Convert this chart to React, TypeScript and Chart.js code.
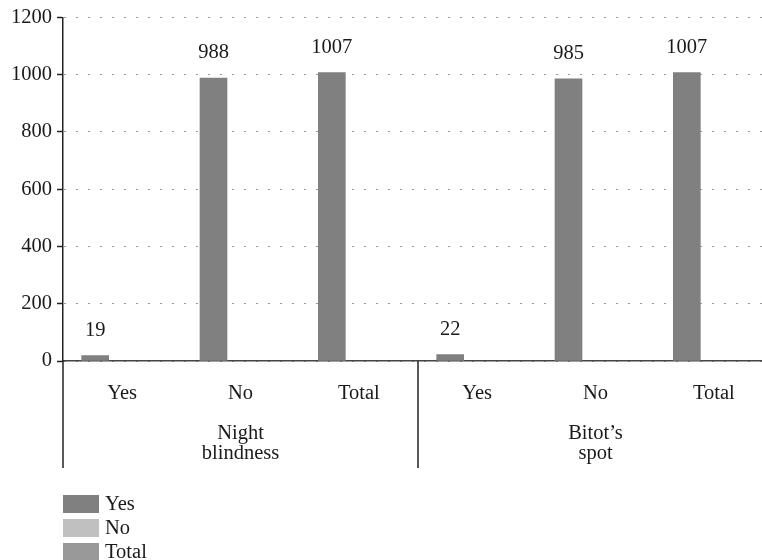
import React, { useEffect, useRef } from "react";
import { Chart, registerables } from "chart.js";

Chart.register(...registerables);

const subCategories = ["Yes", "No", "Total", "Yes", "No", "Total"];
const groupLabels = [["Night", "blindness"], ["Bitot’s", "spot"]];
const seriesNames = ["Yes", "No", "Total"];
const seriesColors = ["#808080", "#c0c0c0", "#999999"];
const yesValues: (number | null)[] = [19, 988, 1007, 22, 985, 1007];
const noValues: (number | null)[] = [null, null, null, null, null, null];
const totalValues: (number | null)[] = [null, null, null, null, null, null];
const yMin = 0;
const yMax = 1200;
const yStep = 200;

const FONT = "'Liberation Serif', 'Times New Roman', serif";
const FONT_SIZE = 20.5;

const overlayPlugin = {
  id: "overlay",
  afterDatasetsDraw(chart: any) {
    const ctx = chart.ctx;
    ctx.save();
    ctx.font = `${FONT_SIZE}px ${FONT}`;
    ctx.fillStyle = "#1a1a1a";
    ctx.textAlign = "center";
    ctx.textBaseline = "middle";
    chart.data.datasets.forEach((ds: any, i: number) => {
      const meta = chart.getDatasetMeta(i);
      meta.data.forEach((bar: any, j: number) => {
        const v = ds.data[j];
        if (v == null) return;
        ctx.fillText(String(v), bar.x, bar.y - 25);
      });
    });
    ctx.restore();
  },
  afterDraw(chart: any) {
    const ctx = chart.ctx;
    const area = chart.chartArea;
    const xs = chart.scales.x;
    ctx.save();
    // group separators
    ctx.strokeStyle = "#222";
    ctx.lineWidth = 1.5;
    const sepXs = [area.left];
    for (let g = 1; g < groupLabels.length; g++) {
      const idx = g * 3;
      sepXs.push((xs.getPixelForValue(idx - 1) + xs.getPixelForValue(idx)) / 2);
    }
    sepXs.forEach((x) => {
      ctx.beginPath();
      ctx.moveTo(x, area.bottom);
      ctx.lineTo(x, area.bottom + 107);
      ctx.stroke();
    });
    // legend
    ctx.font = `${FONT_SIZE}px ${FONT}`;
    ctx.textAlign = "left";
    ctx.textBaseline = "middle";
    chart.data.datasets.forEach((ds: any, i: number) => {
      const y = area.bottom + 134 + i * 24;
      ctx.fillStyle = ds.backgroundColor;
      ctx.fillRect(area.left, y, 36, 18);
      ctx.fillStyle = "#1a1a1a";
      ctx.fillText(ds.label, area.left + 42, y + 10);
    });
    ctx.restore();
  },
};

export default function App() {
  const canvasRef = useRef<HTMLCanvasElement | null>(null);

  useEffect(() => {
    if (!canvasRef.current) return;
    const seriesData = [yesValues, noValues, totalValues];
    const chart = new Chart(canvasRef.current, {
      type: "bar",
      data: {
        labels: subCategories,
        datasets: seriesNames.map((name, i) => ({
          label: name,
          data: seriesData[i],
          backgroundColor: seriesColors[i],
          borderWidth: 0,
          barThickness: 27,
        })),
      },
      options: {
        animation: false,
        responsive: true,
        maintainAspectRatio: false,
        layout: { padding: { top: 15, bottom: 92, left: 0, right: 0 } },
        plugins: {
          legend: { display: false },
          tooltip: { enabled: false },
        },
        scales: {
          x: {
            type: "category",
            position: "bottom",
            weight: 0,
            grid: { display: false, drawTicks: false },
            border: { display: true, color: "#444", width: 1.5 },
            ticks: {
              color: "#1a1a1a",
              font: { family: FONT, size: FONT_SIZE },
              padding: 20,
              maxRotation: 0,
              autoSkip: false,
            },
            afterFit: (s: any) => {
              s.height = 46;
            },
          },
          x2: {
            type: "category",
            position: "bottom",
            weight: 1,
            labels: groupLabels as any,
            offset: true,
            grid: { display: false, drawTicks: false },
            border: { display: false },
            ticks: {
              color: "#1a1a1a",
              font: { family: FONT, size: FONT_SIZE, lineHeight: 1.0 },
              padding: 16,
              maxRotation: 0,
              autoSkip: false,
            },
            afterFit: (s: any) => {
              s.height = 61;
            },
          },
          y: {
            min: yMin,
            max: yMax,
            grid: {
              color: "#333",
              lineWidth: 1,
              tickLength: 6,
              tickColor: "#222",
              tickWidth: 1.5,
              tickBorderDash: [],
            },
            border: { display: true, color: "#222", width: 1.5, dash: [1, 11], dashOffset: 11 },
            ticks: {
              stepSize: yStep,
              color: "#1a1a1a",
              font: { family: FONT, size: FONT_SIZE },
              padding: 5,
              callback: (v: any) => String(v),
            },
            afterFit: (s: any) => {
              s.width = 63;
            },
          },
        },
      },
      plugins: [overlayPlugin],
    });
    return () => chart.destroy();
  }, []);

  return (
    <div
      style={{
        position: "fixed",
        left: 0,
        top: 0,
        width: 762,
        height: 560,
        overflow: "hidden",
        background: "#fff",
      }}
    >
      <div style={{ width: 773, height: 560, position: "relative" }}>
        <canvas ref={canvasRef} />
      </div>
    </div>
  );
}
